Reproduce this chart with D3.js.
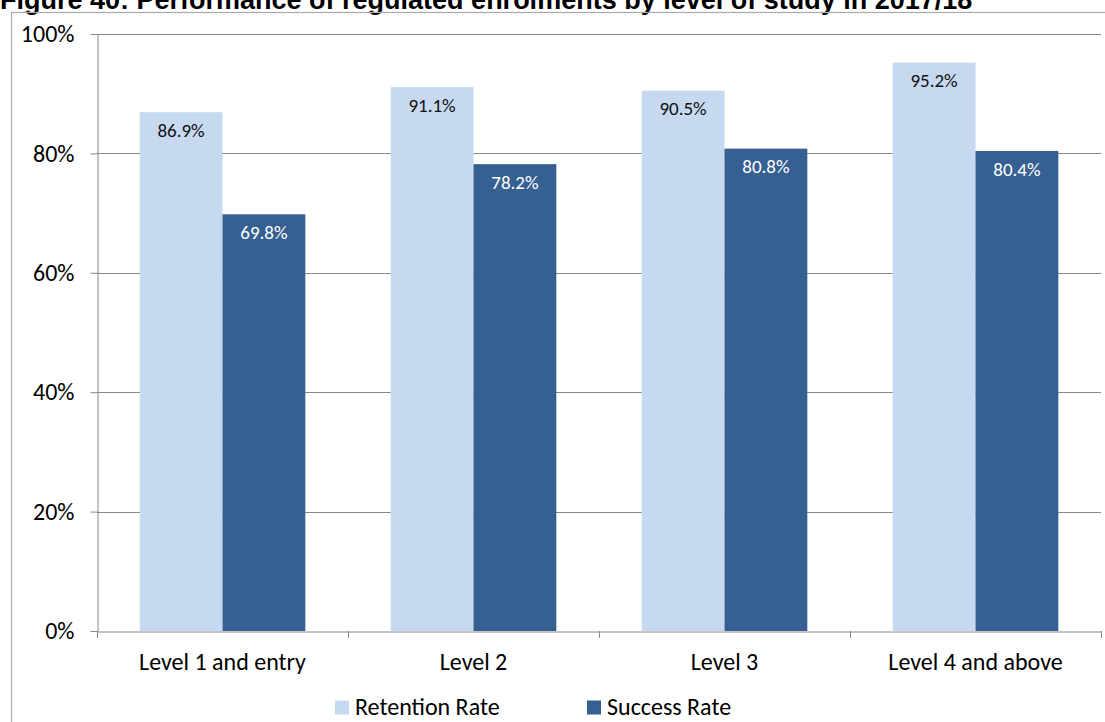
<!DOCTYPE html>
<html><head><meta charset="utf-8">
<script src="https://cdn.jsdelivr.net/npm/d3@7"></script>
<style>body{margin:0;background:#fff}svg{display:block}</style>
</head><body>
<script>
const categories = ["Level 1 and entry", "Level 2", "Level 3", "Level 4 and above"];
const seriesNames = ["Retention Rate", "Success Rate"];
const retention = [86.9, 91.1, 90.5, 95.2];
const success = [69.8, 78.2, 80.8, 80.4];
const yTicks = [0, 20, 40, 60, 80, 100];
const title = "Figure 40: Performance of regulated enrolments by level of study in 2017/18";

const W = 1105, H = 722;
const colors = ["#C6D9F1", "#376092"];
const labelColors = ["#111", "#fff"];
const font = "Carlito, 'Open Sans', sans-serif";

const svg = d3.select("body").append("svg").attr("width", W).attr("height", H);

svg.append("text").attr("x", 0).attr("y", 9).text(title)
  .attr("font-family", "'Liberation Sans', Arial, sans-serif").attr("font-weight", "bold")
  .attr("font-size", 27).attr("fill", "#000");

// outer chart border
svg.append("rect").attr("x", 11.5).attr("y", 12.5).attr("width", W + 10).attr("height", H + 10)
  .attr("fill", "none").attr("stroke", "#aaa").attr("stroke-width", 1.2);

const m = {left: 97, right: 1101, top: 34, bottom: 631};
const x = d3.scaleBand().domain(categories).range([m.left, m.right]).paddingInner(0).paddingOuter(0);
const y = d3.scaleLinear().domain([0, 100]).range([m.bottom, m.top]);
const inner = 0.33;
const x1 = d3.scaleBand().domain(seriesNames).range([0, x.bandwidth()*inner*2]);
const off = (x.bandwidth() - x.bandwidth()*inner*2)/2;

// gridlines
svg.append("g").selectAll("line").data(yTicks.filter(t => t > 0)).join("line")
  .attr("x1", m.left).attr("x2", m.right)
  .attr("y1", d => Math.round(y(d)) + 0.5).attr("y2", d => Math.round(y(d)) + 0.5)
  .attr("stroke", "#888").attr("stroke-width", 1);

// y axis
const yAxis = d3.axisLeft(y).tickValues(yTicks).tickFormat(d => d + "%").tickSize(7).tickPadding(16);
const gy = svg.append("g").attr("transform", `translate(${m.left + 0.5},0)`).call(yAxis);
gy.select(".domain").attr("stroke", "#888");
gy.selectAll(".tick line").attr("stroke", "#888");
gy.selectAll(".tick text").attr("font-family", font).attr("font-size", 24).attr("fill", "#000");

// bars
const data = categories.map((c, i) => ({c, vals: [retention[i], success[i]]}));
const g = svg.append("g");
data.forEach(d => {
  d.vals.forEach((v, j) => {
    const bx = x(d.c) + off + x1(seriesNames[j]);
    g.append("rect").attr("x", bx).attr("y", y(v)).attr("width", x1.bandwidth())
      .attr("height", y(0) - y(v)).attr("fill", colors[j]);
    g.append("text").attr("x", bx + x1.bandwidth()/2).attr("y", y(v) + 24.5)
      .attr("text-anchor", "middle").attr("font-family", font).attr("font-size", 19)
      .attr("fill", labelColors[j]).text(v.toFixed(1) + "%");
  });
});

// x axis
const xAxis = d3.axisBottom(x).tickSize(0);
const gx = svg.append("g").attr("transform", `translate(0,${m.bottom + 0.5})`).call(xAxis);
gx.select(".domain").attr("stroke", "#888");
gx.selectAll(".tick text").attr("font-family", font).attr("font-size", 24).attr("fill", "#000")
  .attr("dy", 0).attr("y", 670 - m.bottom - 0.5);
const bounds = categories.map(c => x(c)).concat([m.right]);
svg.append("g").selectAll("line").data(bounds).join("line")
  .attr("x1", d => Math.round(d) + 0.5).attr("x2", d => Math.round(d) + 0.5)
  .attr("y1", m.bottom).attr("y2", m.bottom + 7).attr("stroke", "#888");

// legend
const legendX = [335, 587];
const lg = svg.append("g");
seriesNames.forEach((s, i) => {
  lg.append("rect").attr("x", legendX[i]).attr("y", 700.5).attr("width", 14).attr("height", 14).attr("fill", colors[i]);
  lg.append("text").attr("x", legendX[i] + 20).attr("y", 715).attr("font-family", font)
    .attr("font-size", 24).attr("fill", "#000").text(s);
});
</script>
</body></html>
